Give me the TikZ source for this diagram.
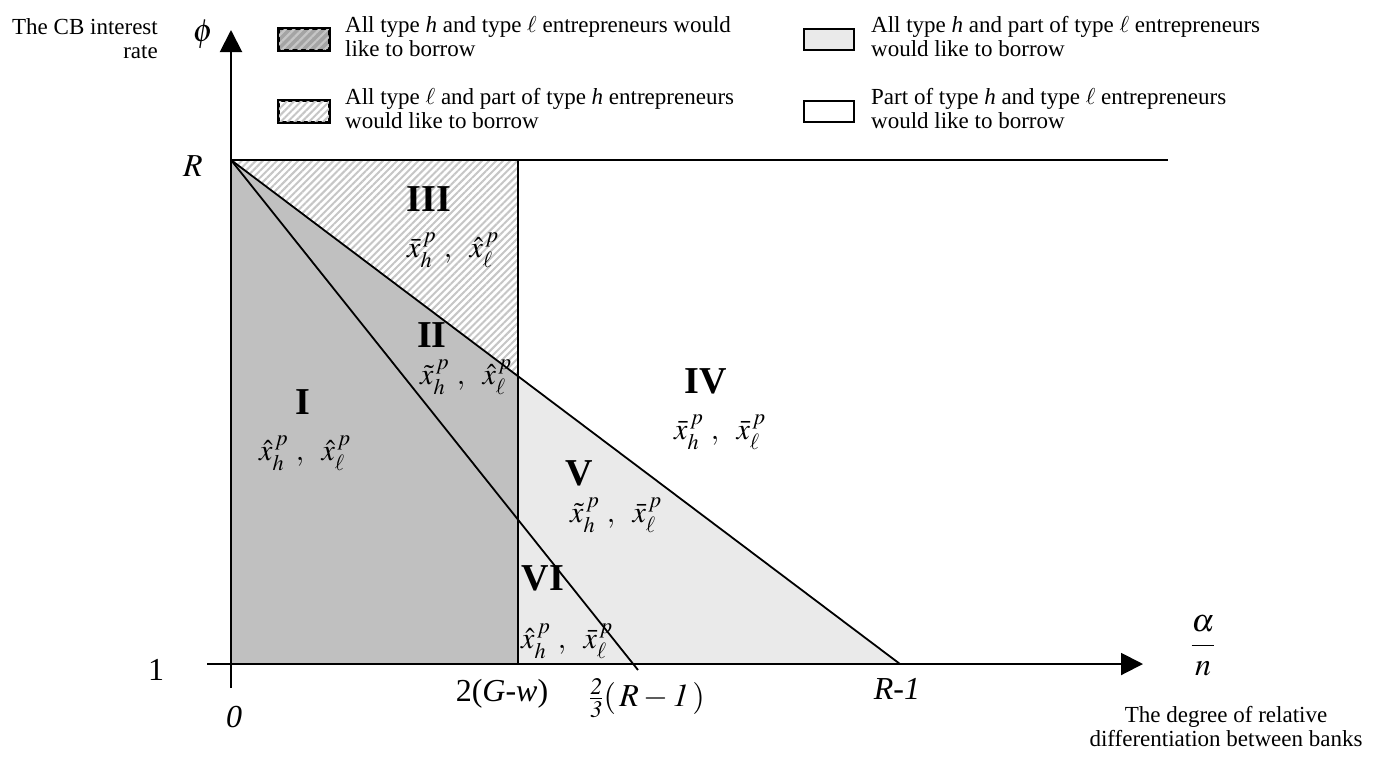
\documentclass[tikz,border=0pt]{standalone}
\usepackage{amsmath}
\usepackage{mathptmx}
\usepackage[no-math]{fontspec}
\setmainfont{Liberation Serif}
\usetikzlibrary{arrows.meta,patterns.meta}

\definecolor{darkreg}{HTML}{C0C0C0}
\definecolor{lightreg}{HTML}{EAEAEA}
\definecolor{hatchgray}{HTML}{C6C6C6}
\definecolor{keydark}{HTML}{A4A4A4}

\begin{document}
\begin{tikzpicture}[
    x=1pt, y=-1pt,
    axis/.style={line width=2pt, -{Triangle[length=22pt, width=22pt]}},
    bound/.style={line width=1.8pt},
    hatch/.style={pattern={Lines[angle=45, distance=5pt, line width=2pt]}, pattern color=hatchgray},
    keybox/.style={draw=black, line width=1.6pt, minimum width=50pt, minimum height=21pt, inner sep=0pt},
    keytext/.style={anchor=north west, align=left, inner sep=0pt, font=\fontsize{23}{24}\selectfont},
    roman/.style={font=\fontsize{38}{40}\selectfont\bfseries},
    pair/.style={font=\fontsize{30}{32}\selectfont},
    ticklab/.style={font=\fontsize{32}{34}\selectfont}
]
  \useasboundingbox (0,0) rectangle (1374,756);

  % points of the diagram
  \coordinate (O)      at (231,664);
  \coordinate (ybot)   at (231,688);
  \coordinate (ytop)   at (231,30);
  \coordinate (xleft)  at (207,664);
  \coordinate (xright) at (1143,664);
  \coordinate (Rpt)    at (231,160);
  \coordinate (Rend)   at (1168,160);
  \coordinate (Gtop)   at (518,160);
  \coordinate (Gbot)   at (518,664);
  \coordinate (Gmid)   at (518,376.2);
  \coordinate (Rone)   at (900,664);
  \coordinate (twothr) at (638,670);

  % regions
  \fill[darkreg] (Rpt) -- (O) -- (Gbot) -- (Gmid) -- cycle;
  \fill[white] (Rpt) -- (Gtop) -- (Gmid) -- cycle;
  \fill[hatch] (Rpt) -- (Gtop) -- (Gmid) -- cycle;
  \fill[lightreg] (Gmid) -- (Gbot) -- (Rone) -- cycle;

  % boundaries and axes
  \draw[bound] (Rpt) -- (Rend);
  \draw[bound] (Gtop) -- (Gbot);
  \draw[bound] (Rpt) -- (Rone);
  \draw[bound] (Rpt) -- (twothr);
  \draw[axis] (ybot) -- (ytop);
  \draw[axis] (xleft) -- (xright);

  % legend
  \node[keybox, fill=keydark] (key1) at (304,39.5) {};
  \fill[pattern={Lines[angle=45, distance=6pt, line width=2.2pt]}, pattern color=hatchgray]
    (key1.south west) rectangle (key1.north east);
  \draw[line width=1.6pt] (key1.south west) rectangle (key1.north east);
  \node[keybox, fill=white] (key2) at (304,111.5) {};
  \fill[hatch] (key2.south west) rectangle (key2.north east);
  \draw[line width=1.6pt] (key2.south west) rectangle (key2.north east);
  \node[keybox, fill=lightreg] (key3) at (829,39.5) {};
  \node[keybox, fill=white] (key4) at (829,111.5) {};

  \node[keytext] (keyt1) at (345,16) {All type \textit{h} and type $\ell$ entrepreneurs would\\like to borrow};
  \node[keytext] (keyt2) at (345,88) {All type $\ell$ and part of type \textit{h} entrepreneurs\\would like to borrow};
  \node[keytext] (keyt3) at (871,16) {All type \textit{h} and part of type $\ell$ entrepreneurs\\would like to borrow};
  \node[keytext] (keyt4) at (871,88) {Part of type \textit{h} and type $\ell$ entrepreneurs\\would like to borrow};

  % axis labels
  \node[keytext, anchor=north east, align=right] (ylab) at (158,18) {The CB interest\\rate};
  \node[ticklab] (phi) at (203,34) {$\phi$};
  \node[ticklab] (Rlab) at (193,166) {$R$};
  \node[ticklab] (onelab) at (156,670) {1};
  \node[ticklab] (zerolab) at (234,717) {\textit{0}};
  \node[ticklab] (Glab) at (502,694) {2(\textit{G}-\textit{w})};
  \node[ticklab] (twolab) at (647,698) {$\frac{\mathit{2}}{\mathit{3}}(\,R-\mathit{1}\,)$};
  \node[ticklab] (Ronelab) at (897,689) {\textit{R-1}};
  \node[ticklab] (alab) at (1203,646) {$\dfrac{\alpha}{n}$};
  \node[keytext, anchor=north, align=center] (xlab) at (1226,706) {The degree of relative\\differentiation between banks};

  % region names
  \node[roman] (r3) at (429,199) {III};
  \node[pair]  (p3) at (453,250) {$\bar{x}_h^{\,p}\ ,\ \;\hat{x}_\ell^{\,p}$};
  \node[roman] (r2) at (432,335) {II};
  \node[pair]  (p2) at (466,377) {$\tilde{x}_h^{\,p}\ ,\ \;\hat{x}_\ell^{\,p}$};
  \node[roman] (r1) at (303,402) {I};
  \node[pair]  (p1) at (305,453) {$\hat{x}_h^{\,p}\ ,\ \;\hat{x}_\ell^{\,p}$};
  \node[roman] (r4) at (706,381) {IV};
  \node[pair]  (p4) at (720,432) {$\bar{x}_h^{\,p}\ ,\ \;\bar{x}_\ell^{\,p}$};
  \node[roman] (r5) at (579,473) {V};
  \node[pair]  (p5) at (616,515) {$\tilde{x}_h^{\,p}\ ,\ \;\bar{x}_\ell^{\,p}$};
  \node[roman] (r6) at (543,578) {VI};
  \node[pair]  (p6) at (567,641) {$\hat{x}_h^{\,p}\ ,\ \;\bar{x}_\ell^{\,p}$};
\end{tikzpicture}
\end{document}
